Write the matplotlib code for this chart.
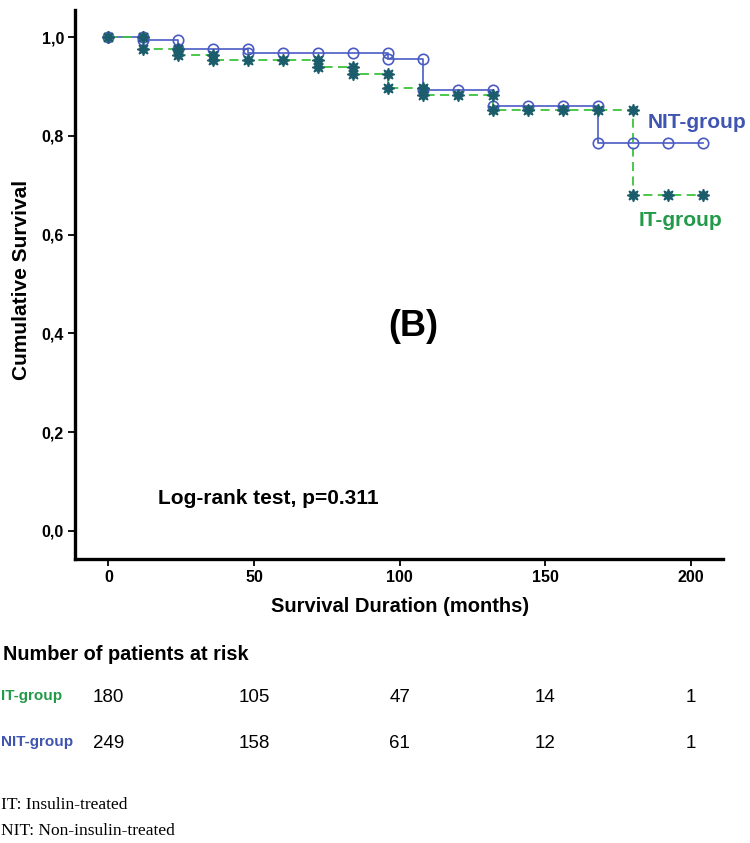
import matplotlib
matplotlib.use("Agg")
import matplotlib.pyplot as plt
from matplotlib import font_manager

# ---------------- data ----------------
months = [0, 12, 24, 36, 48, 60, 72, 84, 96, 108, 120, 132, 144, 156, 168, 180, 192, 204]
nit_surv = [1.0, 0.995, 0.976, 0.976, 0.967, 0.967, 0.967, 0.967, 0.955, 0.893,
            0.893, 0.860, 0.860, 0.860, 0.786, 0.786, 0.786, 0.786]
it_surv = [1.0, 0.977, 0.963, 0.954, 0.954, 0.954, 0.940, 0.925, 0.897, 0.882,
           0.882, 0.853, 0.853, 0.853, 0.853, 0.681, 0.681, 0.681]

risk_times = [0, 50, 100, 150, 200]
it_risk = [180, 105, 47, 14, 1]
nit_risk = [249, 158, 61, 12, 1]

x_ticks = [0, 50, 100, 150, 200]
y_ticks = [0.0, 0.2, 0.4, 0.6, 0.8, 1.0]
y_ticklabels = ["0,0", "0,2", "0,4", "0,6", "0,8", "1,0"]

# ---------------- style ----------------
names = {f.name for f in font_manager.fontManager.ttflist}
NARROW = "Liberation Sans Narrow" if "Liberation Sans Narrow" in names else "Liberation Sans"
SANS = "Liberation Sans"
SERIF = "Liberation Serif"

BLUE_LINE = "#4a5cc4"
BLUE_TXT = "#3f55b0"
GREEN_LINE = "#3cc43c"
GREEN_TXT = "#23994a"
STAR = "#1c5d6c"

W, H = 750, 843
fig = plt.figure(figsize=(W / 100, H / 100), dpi=100)

# axes box in pixel coords
L, R, T, B = 75, 723, 10, 559
ax = fig.add_axes([L / W, 1 - B / H, (R - L) / W, (B - T) / H])
ax.set_xlim(-11.5, 211)
ax.set_ylim(-0.057, 1.055)

for s in ["top", "right"]:
    ax.spines[s].set_visible(False)
for s in ["left", "bottom"]:
    ax.spines[s].set_linewidth(2.4)
    ax.spines[s].set_color("black")

ax.set_xticks(x_ticks)
ax.set_xticklabels([str(v) for v in x_ticks], fontfamily=NARROW, fontweight="bold", fontsize=11.5)
ax.set_yticks(y_ticks)
ax.set_yticklabels(y_ticklabels, fontfamily=NARROW, fontweight="bold", fontsize=11.5)
ax.tick_params(axis="both", direction="out", length=5, width=1.3, pad=3)


def vertices(t, s):
    xs, ys = [t[0]], [s[0]]
    for i in range(1, len(t)):
        xs.append(t[i]); ys.append(s[i - 1])
        if s[i] != s[i - 1]:
            xs.append(t[i]); ys.append(s[i])
    return xs, ys


# lines
ax.plot(months, nit_surv, drawstyle="steps-post", color=BLUE_LINE, lw=1.2, zorder=2)
ax.plot(months, it_surv, drawstyle="steps-post", color=GREEN_LINE, lw=1.3,
        dashes=(5, 3), zorder=3)

# markers
vx, vy = vertices(months, nit_surv)
ax.plot(vx, vy, ls="none", marker="o", ms=7.5, mfc="none", mec=BLUE_LINE, mew=1.2, zorder=4)
vx, vy = vertices(months, it_surv)
ax.plot(vx, vy, ls="none", marker=(8, 1, 0), ms=9, color=STAR, mec=STAR, zorder=5)

# axis labels
fig.text(22 / W, 1 - 280 / H, "Cumulative Survival", rotation=90, ha="center", va="center",
         fontfamily=SANS, fontweight="bold", fontsize=15)
fig.text(400 / W, 1 - 607 / H, "Survival Duration (months)", ha="center", va="center",
         fontfamily=SANS, fontweight="bold", fontsize=14.5)

# annotations inside plot
fig.text(697 / W, 1 - 123 / H, "NIT-group", ha="center", va="center", color=BLUE_TXT,
         fontfamily=SANS, fontweight="bold", fontsize=15)
fig.text(681 / W, 1 - 221 / H, "IT-group", ha="center", va="center", color=GREEN_TXT,
         fontfamily=SANS, fontweight="bold", fontsize=15)
fig.text(413 / W, 1 - 327 / H, "(B)", ha="center", va="center",
         fontfamily=SANS, fontweight="bold", fontsize=26)
fig.text(158 / W, 1 - 498 / H, "Log-rank test, p=0.311", ha="left", va="center",
         fontfamily=SANS, fontweight="bold", fontsize=15)

# number at risk table
fig.text(3 / W, 1 - 655 / H, "Number of patients at risk", ha="left", va="center",
         fontfamily=SANS, fontweight="bold", fontsize=14.3)
fig.text(1 / W, 1 - 696 / H, "IT-group", ha="left", va="center", color=GREEN_TXT,
         fontfamily=NARROW, fontweight="bold", fontsize=11)
fig.text(1 / W, 1 - 742 / H, "NIT-group", ha="left", va="center", color=BLUE_TXT,
         fontfamily=NARROW, fontweight="bold", fontsize=11)

for t, n in zip(risk_times, it_risk):
    xd = ax.transData.transform((t, 0))[0]
    fig.text(xd / W, 1 - 698 / H, str(n), ha="center", va="center",
             fontfamily=NARROW, fontsize=13.5)
for t, n in zip(risk_times, nit_risk):
    xd = ax.transData.transform((t, 0))[0]
    fig.text(xd / W, 1 - 743 / H, str(n), ha="center", va="center",
             fontfamily=NARROW, fontsize=13.5)

fig.text(1 / W, 1 - 805 / H, "IT: Insulin-treated", ha="left", va="center",
         fontfamily=SERIF, fontsize=12.5)
fig.text(1 / W, 1 - 831 / H, "NIT: Non-insulin-treated", ha="left", va="center",
         fontfamily=SERIF, fontsize=12.5)

fig.savefig("out.png", dpi=100)
